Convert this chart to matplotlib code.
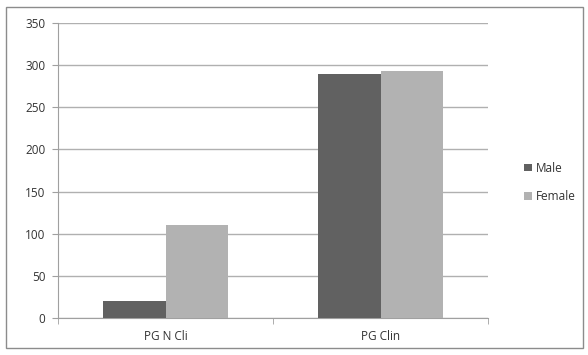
import matplotlib
matplotlib.use("Agg")
import matplotlib.pyplot as plt
import numpy as np
from matplotlib.patches import Rectangle

# Chart data
categories = ["PG N Cli", "PG Clin"]
male = [20, 290]
female = [110, 293]
y_ticks = [0, 50, 100, 150, 200, 250, 300, 350]

plt.rcParams['font.family'] = ['Open Sans', 'DejaVu Sans']
plt.rcParams['text.color'] = '#333333'

fig = plt.figure(figsize=(5.88, 3.55), dpi=100)
ax = fig.add_axes([58 / 588, 1 - 318 / 355, 430 / 588, 295 / 355])

x = np.arange(len(categories))
width = 0.29
ax.bar(x - width / 2, male, width, color='#616161', label='Male', zorder=3)
ax.bar(x + width / 2, female, width, color='#b2b2b2', label='Female', zorder=3)

ax.set_xlim(-0.5, len(categories) - 0.5)
ax.set_ylim(0, 350)
ax.set_yticks(y_ticks)
ax.tick_params(axis='y', labelsize=8.5, length=4, color='#a0a0a0', pad=5,
               labelcolor='#333333')
ax.set_xticks(x)
ax.set_xticklabels(categories)
ax.tick_params(axis='x', labelsize=8.5, length=0, pad=9, labelcolor='#333333')
# Category boundary ticks
ax.set_xticks(np.arange(-0.5, len(categories)), minor=True)
ax.tick_params(axis='x', which='minor', length=4, color='#a0a0a0')

ax.yaxis.grid(True, color='#b0b0b0', linewidth=1)
ax.set_axisbelow(True)
for side in ['top', 'right']:
    ax.spines[side].set_visible(False)
ax.spines['left'].set_color('#a0a0a0')
ax.spines['bottom'].set_color('#a0a0a0')

ax.legend(loc='center left', bbox_to_anchor=(1.06, 0.46), frameon=False,
          fontsize=8.5, handlelength=0.6, handleheight=0.6, handletextpad=0.35,
          labelspacing=1.3)

# Outer chart border
fig.patches.append(Rectangle((6 / 588, 7 / 355), 577 / 588, 341 / 355,
                             transform=fig.transFigure, fill=False,
                             edgecolor='#8c8c8c', linewidth=1))

fig.savefig('out.png', dpi=100)
